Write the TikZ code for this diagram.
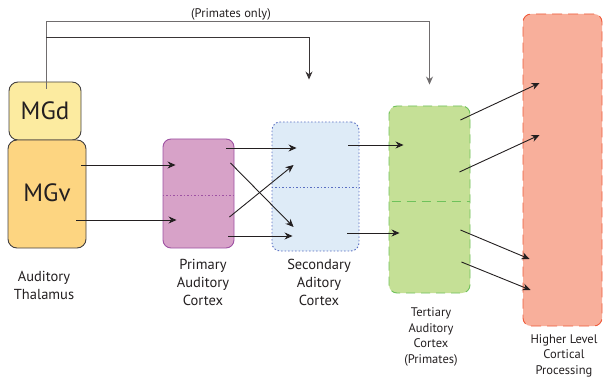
\documentclass[tikz,border=0pt]{standalone}
\usepackage{fontspec}
\setmainfont{PT Sans}
\usetikzlibrary{arrows.meta}
\definecolor{ink}{HTML}{231F20}
\tikzset{
  nucleus/.style = {rectangle, rounded corners=9pt, draw=ink!85, line width=0.9pt,
                    inner sep=0pt, font=\fontsize{25}{25}\selectfont, text=ink},
  area/.style    = {rectangle, rounded corners=8pt, line width=0.9pt, inner sep=0pt},
  lbl/.style     = {align=center, text=ink, font=\fontsize{14.5}{18}\selectfont},
  smalllbl/.style= {align=center, text=ink, font=\fontsize{12.5}{15.5}\selectfont},
  flow/.style    = {-{Stealth[length=8pt,width=7pt]}, line width=0.9pt, draw=ink},
  feed/.style    = {-{Stealth[length=8pt,width=7pt]}, line width=1pt, draw=ink!65},
}

\begin{document}
\begin{tikzpicture}[x=1pt, y=1pt]
      \useasboundingbox (0,0) rectangle (603,381);

      % thalamus
      \node[nucleus, fill={rgb,255:red,252;green,235;blue,160}, minimum width=72pt, minimum height=58pt]
           (mgd) at (45,270) {MGd};
      \node[nucleus, fill={rgb,255:red,253;green,213;blue,129}, minimum width=78pt, minimum height=108pt,
            text depth=0pt] (mgv) at (47,187) {\raisebox{3pt}{MGv}};

      % cortical areas
      \node[area, fill={rgb,255:red,215;green,162;blue,200}, draw={rgb,255:red,158;green,82;blue,163},
            minimum width=71pt, minimum height=109pt] (primary) at (198.5,187.5) {};
      \node[area, fill={rgb,255:red,222;green,235;blue,247}, draw={rgb,255:red,90;green,111;blue,194},
            dash pattern=on 1.5pt off 2pt, minimum width=87pt, minimum height=129pt]
           (secondary) at (315.5,194.5) {};
      \node[area, fill={rgb,255:red,197;green,224;blue,150}, draw={rgb,255:red,111;green,193;blue,91},
            dash pattern=on 9pt off 6pt, minimum width=81pt, minimum height=187pt]
           (tertiary) at (429.5,181.5) {};
      \node[area, fill={rgb,255:red,248;green,175;blue,155}, draw={rgb,255:red,239;green,90;blue,58},
            dash pattern=on 10pt off 6pt, minimum width=79pt, minimum height=312pt]
           (higher) at (562.5,211) {};

      % dividers
      \draw[draw={rgb,255:red,158;green,82;blue,163}, dash pattern=on 1.5pt off 2pt, line width=0.8pt]
           ([yshift=-1.5pt]primary.west) -- ([yshift=-1.5pt]primary.east);
      \draw[draw={rgb,255:red,90;green,111;blue,194}, dash pattern=on 1.5pt off 2pt, line width=0.8pt]
           ([yshift=-0.5pt]secondary.west) -- ([yshift=-0.5pt]secondary.east);
      \draw[draw={rgb,255:red,111;green,193;blue,91}, dash pattern=on 9pt off 6pt, line width=0.8pt]
           ([shift={(3,-1.5)}]tertiary.west) -- ([yshift=-1.5pt]tertiary.east);

      % labels
      \node[lbl]      (thallbl) at (44,95.5)  {Auditory\\Thalamus};
      \node[lbl]      (primlbl) at (203,99)   {Primary\\Auditory\\Cortex};
      \node[lbl]      (seclbl)  at (319,99)   {Secondary\\Aditory\\Cortex};
      \node[smalllbl] (terlbl)  at (431,44)   {Tertiary\\Auditory\\Cortex\\(Primates)};
      \node[smalllbl] (higlbl)  at (564,25.5) {Higher Level\\Cortical\\Processing};
      \node[smalllbl] (primonly) at (231,367) {(Primates only)};

      % direct MGd projections
      \draw[feed] ([shift={(1,-7)}]mgd.north) -- ++(0,67) -| ([yshift=21pt]tertiary.north);
      \draw[feed, draw=ink!90] ([shift={(1,44)}]mgd.north) -| ([shift={(-6.5,42)}]secondary.north);

      % MGv to primary
      \draw[flow] ([shift={(-5,29)}]mgv.east)   -- ([shift={(13,28.5)}]primary.west);
      \draw[flow] ([shift={(-10,-26)}]mgv.east) -- ([shift={(14,-26.5)}]primary.west);

      % primary to secondary
      \draw[flow] ([shift={(-8,45.5)}]primary.east)  -- ([shift={(25,38.5)}]secondary.west);
      \draw[flow] ([shift={(-4,30.5)}]primary.east)  -- ([shift={(22,-40.5)}]secondary.west);
      \draw[flow] ([shift={(-5,-23.5)}]primary.east) -- ([shift={(22,21.5)}]secondary.west);
      \draw[flow] ([shift={(-6,-42.5)}]primary.east) -- ([shift={(21,-49.5)}]secondary.west);

      % secondary to tertiary
      \draw[flow] ([shift={(-11,41.5)}]secondary.east)  -- ([shift={(15,54.5)}]tertiary.west);
      \draw[flow] ([shift={(-12,-46.5)}]secondary.east) -- ([shift={(11,-33.5)}]tertiary.west);

      % tertiary to higher
      \draw[flow] ([shift={(-10,79.5)}]tertiary.east)  -- ([shift={(17,87)}]higher.west);
      \draw[flow] ([shift={(-11,27.5)}]tertiary.east)  -- ([shift={(17,35)}]higher.west);
      \draw[flow] ([shift={(-10,-30.5)}]tertiary.east) -- ([shift={(7,-89)}]higher.west);
      \draw[flow] ([shift={(-9,-62.5)}]tertiary.east)  -- ([shift={(8,-120)}]higher.west);
\end{tikzpicture}
\end{document}
